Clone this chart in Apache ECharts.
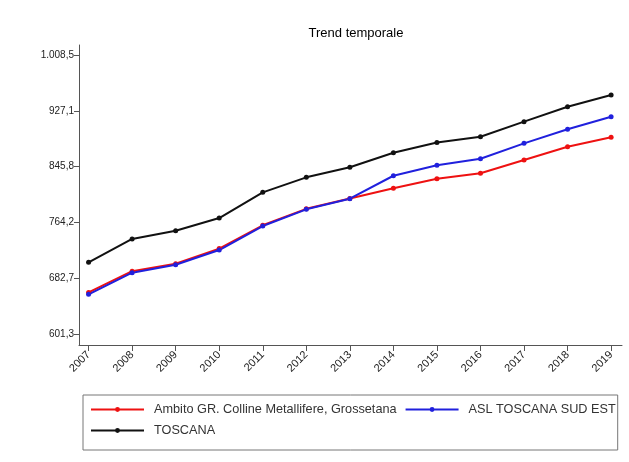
<!DOCTYPE html>
<html>
<head>
<meta charset="utf-8">
<script src="https://cdn.jsdelivr.net/npm/echarts@6/dist/echarts.min.js"></script>
<style>html,body{margin:0;padding:0;background:#fff;}#c{width:629px;height:462px;}</style>
</head>
<body>
<div id="c"></div>
<script>
var years = [2007, 2008, 2009, 2010, 2011, 2012, 2013, 2014, 2015, 2016, 2017, 2018, 2019];
var ambito = [662, 693, 704, 726, 760, 784, 799, 814, 827.8, 835.9, 855.3, 874.7, 888.4];
var asl = [659.3, 690.8, 702.5, 723.9, 758.9, 783.3, 798.8, 832.3, 847.5, 857.2, 879.6, 900.1, 918.5];
var toscana = [706.0, 740.0, 752.1, 770.6, 808.1, 830.0, 844.6, 865.9, 880.8, 889.3, 911.2, 933.0, 950.1];
var yTickValues = [601.3, 682.7, 764.2, 845.8, 927.1, 1008.5];
var yTickLabels = ["601,3", "682,7", "764,2", "845,8", "927,1", "1.008,5"];
var seriesNames = ["Ambito GR. Colline Metallifere, Grossetana", "ASL TOSCANA SUD EST", "TOSCANA"];

function pairs(vals) { return years.map(function (y, i) { return [y, vals[i]]; }); }

var chart = echarts.init(document.getElementById('c'));
var font = 'Liberation Sans, Arial, sans-serif';
function line(name, vals, color) {
  return {
    name: name, type: 'line', data: pairs(vals),
    symbol: 'circle', symbolSize: 5,
    lineStyle: { color: color, width: 2 },
    itemStyle: { color: color },
    emphasis: { disabled: true },
    animation: false
  };
}
chart.setOption({
  animation: false,
  backgroundColor: '#fff',
  textStyle: { fontFamily: font },
  title: {
    text: 'Trend temporale', left: 351, top: 22, textAlign: 'center',
    textStyle: { fontSize: 13, fontWeight: 'normal', color: '#000', fontFamily: font }
  },
  grid: { left: 79, right: 7, top: 45, bottom: 117, containLabel: false },
  xAxis: {
    type: 'value', min: 2006.78, max: 2019.25,
    axisLine: { show: true, lineStyle: { color: '#555', width: 1 } },
    axisTick: { show: true, length: 6, lineStyle: { color: '#555' }, customValues: years },
    axisLabel: {
      rotate: 45, fontSize: 11, color: '#222', margin: 8, fontFamily: font,
      customValues: years,
      formatter: function (v) { return String(Math.round(v)); }
    },
    splitLine: { show: false }
  },
  yAxis: {
    type: 'value', min: 585.3, max: 1023.1,
    axisLine: { show: true, lineStyle: { color: '#555', width: 1 } },
    axisTick: { show: true, length: 5, lineStyle: { color: '#555' }, customValues: yTickValues },
    axisLabel: {
      fontSize: 10, color: '#222', margin: 5, fontFamily: font,
      customValues: yTickValues,
      formatter: function (v) {
        for (var i = 0; i < yTickValues.length; i++) {
          if (Math.abs(yTickValues[i] - v) < 0.01) return yTickLabels[i];
        }
        return '';
      }
    },
    splitLine: { show: false }
  },
  legend: {
    left: 83, top: 395, width: 540,
    orient: 'horizontal',
    borderColor: '#777', borderWidth: 1,
    padding: [8, 2, 13, 7],
    itemWidth: 53, itemHeight: 6, itemGap: 8,
    textStyle: { fontSize: 12.7, color: '#333', fontFamily: font, padding: [0, 0, 0, 5] },
    data: seriesNames
  },
  series: [
    line(seriesNames[0], ambito, '#ee1111'),
    line(seriesNames[1], asl, '#2020dd'),
    line(seriesNames[2], toscana, '#111111')
  ]
});
</script>
</body>
</html>
